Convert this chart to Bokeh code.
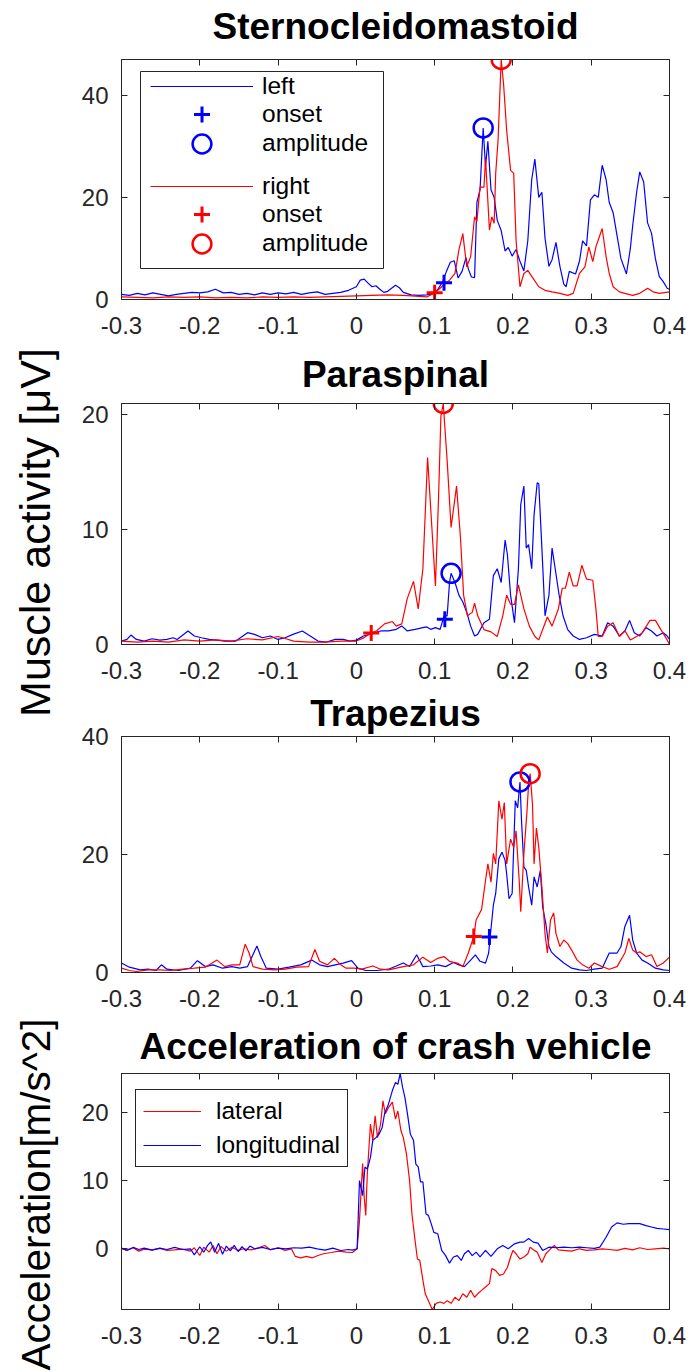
import math
from bokeh.plotting import figure
from bokeh.models import Range1d, LinearAxis, FixedTicker, Legend, LegendItem, BoxAnnotation, Title
from bokeh.layouts import row, column
from bokeh.embed import file_html
from bokeh.resources import INLINE

# ---------------- data ----------------
x_ticks = [-0.3, -0.2, -0.1, 0.0, 0.1, 0.2, 0.3, 0.4]
x_tick_labels = ["-0.3", "-0.2", "-0.1", "0", "0.1", "0.2", "0.3", "0.4"]

titles = ["Sternocleidomastoid", "Paraspinal", "Trapezius", "Acceleration of crash vehicle"]
y_labels = ["Muscle activity [\u03bcV]", "Acceleration[m/s^2]"]
emg_legend = ["left", "onset", "amplitude", "right", "onset", "amplitude"]
acc_legend = ["lateral", "longitudinal"]

# Sternocleidomastoid
scm_left_t = [-0.30,-0.29,-0.28,-0.27,-0.26,-0.25,-0.24,-0.23,-0.22,-0.21,-0.20,-0.19,-0.18,-0.17,-0.16,-0.15,-0.14,-0.13,-0.12,-0.11,
              -0.10,-0.09,-0.08,-0.07,-0.06,-0.05,-0.04,-0.03,-0.02,-0.01,0.000,0.005,0.010,0.015,0.020,0.025,0.030,0.035,0.040,0.045,
              0.050,0.055,0.060,0.070,0.080,0.090,0.100,0.105,0.110,0.115,0.120,0.125,0.130,0.135,0.140,
              0.143,0.147,0.151,0.154,0.158,0.162,0.165,0.168,0.172,0.176,0.180,0.185,0.190,0.194,0.199,0.204,0.209,0.214,0.219,0.224,
              0.228,0.233,0.237,0.241,0.246,0.250,0.255,0.260,0.265,0.268,0.272,0.280,0.285,0.289,0.294,0.299,0.304,0.309,0.314,0.319,
              0.323,0.328,0.333,0.338,0.345,0.350,0.353,0.358,0.362,0.367,0.372,0.377,0.382,0.387,0.392,0.397,0.400]
scm_left_v = [1.0,0.8,1.2,0.9,1.3,1.0,0.7,1.0,1.2,1.4,1.3,1.5,2.0,1.3,1.4,1.0,1.2,0.9,1.3,1.0,
              1.3,1.1,1.4,1.0,1.3,1.5,1.0,1.2,1.4,1.8,2.5,3.8,4.0,3.2,2.5,2.7,2.0,1.4,1.6,2.2,
              2.8,2.3,1.4,0.9,0.8,0.9,1.2,2.2,3.4,5.5,7.3,7.6,4.2,5.5,8.2,
              6.0,4.4,4.3,19.0,21.5,33.6,26.0,31.0,21.5,20.0,15.5,13.5,9.5,10.2,8.5,9.8,7.5,5.6,11.5,23.5,
              27.5,20.0,21.0,12.0,6.5,7.8,11.2,6.5,3.0,2.5,5.5,5.0,7.5,11.5,10.5,19.5,20.5,20.0,26.3,23.5,
              19.0,17.0,12.5,8.0,5.0,10.0,14.5,21.0,25.0,23.0,15.0,13.0,8.0,4.5,3.5,2.2,2.0]
scm_right_t = [-0.30,-0.28,-0.26,-0.24,-0.22,-0.20,-0.18,-0.16,-0.14,-0.12,-0.10,-0.08,-0.06,-0.04,-0.02,0.00,0.02,0.04,0.06,0.08,
               0.09,0.100,0.104,0.109,0.119,0.126,0.131,0.136,0.141,0.146,0.151,0.154,0.158,0.163,0.165,0.170,0.173,0.176,0.178,0.181,
               0.185,0.188,0.192,0.197,0.201,0.204,0.209,0.214,0.219,0.226,0.233,0.241,0.250,0.260,0.270,0.277,0.285,0.292,0.297,0.302,
               0.306,0.314,0.319,0.323,0.328,0.336,0.343,0.353,0.362,0.372,0.379,0.387,0.400]
scm_right_v = [0.5,0.4,0.3,0.5,0.4,0.5,0.3,0.4,0.3,0.5,0.4,0.5,0.4,0.5,0.6,0.7,0.8,0.9,0.8,0.6,
               0.5,1.3,1.8,2.5,3.8,5.1,9.7,12.9,6.4,8.4,16.2,15.3,22.0,22.0,27.6,13.6,16.2,14.9,24.7,31.2,
               47.0,42.3,33.1,25.3,24.7,11.6,2.5,5.1,5.7,4.1,2.5,1.8,1.5,1.2,0.8,1.2,5.1,6.4,10.3,7.4,
               10.3,13.9,8.4,5.1,2.5,1.5,1.2,0.8,1.2,2.2,1.5,1.2,1.5]

# Paraspinal
para_left_t = [-0.300,-0.293,-0.288,-0.281,-0.271,-0.261,-0.251,-0.242,-0.234,-0.229,-0.215,-0.207,-0.198,-0.188,-0.178,-0.168,-0.154,-0.139,-0.130,-0.120,
               -0.110,-0.100,-0.091,-0.081,-0.069,-0.059,-0.049,-0.039,-0.027,-0.017,-0.008,0.000,0.009,0.021,0.031,0.041,0.051,0.058,0.065,0.075,
               0.085,0.090,0.095,0.101,0.107,0.112,0.116,0.119,0.121,0.126,0.131,0.136,0.141,0.146,0.151,0.155,0.163,0.170,0.175,0.180,
               0.185,0.190,0.193,0.197,0.202,0.207,0.210,0.214,0.217,0.220,0.224,0.227,0.231,0.233,0.237,0.241,0.246,0.250,0.254,0.259,
               0.264,0.270,0.277,0.285,0.294,0.304,0.314,0.321,0.328,0.336,0.343,0.349,0.355,0.362,0.370,0.377,0.384,0.392,0.397,0.400]
para_left_v = [0.3,0.44,0.82,0.44,0.3,0.5,0.38,0.44,0.59,0.44,1.18,0.74,0.59,0.44,0.38,0.3,0.3,1.03,0.88,0.59,
               0.74,0.44,0.59,0.88,1.18,0.74,0.3,0.2,0.44,0.44,0.3,0.38,0.74,0.97,1.18,1.18,1.32,1.62,1.18,1.32,
               1.47,1.53,1.32,1.47,1.32,2.5,2.5,5.4,6.2,5.4,4.3,3.7,2.8,1.6,0.74,0.88,1.9,2.2,6.0,6.6,
               5.4,9.1,7.8,4.3,1.9,6.6,12.2,13.8,8.4,8.7,6.6,11.3,14.1,14.0,8.4,2.5,4.3,8.4,6.6,4.3,
               2.5,1.3,0.74,0.44,0.59,0.88,0.74,1.9,1.6,0.74,1.18,2.1,1.03,0.74,1.47,1.18,0.74,1.03,0.74,0.44]
para_right_t = [-0.30,-0.28,-0.26,-0.24,-0.22,-0.20,-0.18,-0.16,-0.14,-0.12,-0.10,-0.09,-0.08,-0.06,-0.04,-0.02,0.00,0.010,0.019,0.026,
                0.036,0.046,0.051,0.058,0.065,0.073,0.079,0.085,0.091,0.096,0.101,0.105,0.108,0.111,0.116,0.121,0.128,0.133,0.137,0.142,
                0.148,0.151,0.155,0.163,0.172,0.180,0.187,0.192,0.197,0.202,0.207,0.214,0.221,0.228,0.233,0.238,0.244,0.250,0.258,0.263,
                0.267,0.272,0.277,0.282,0.288,0.294,0.302,0.306,0.309,0.314,0.321,0.328,0.336,0.343,0.350,0.358,0.365,0.375,0.382,0.389,
                0.397,0.400]
para_right_v = [0.3,0.2,0.3,0.2,0.4,0.3,0.4,0.3,0.5,0.4,0.7,0.5,0.3,0.2,0.2,0.3,0.3,0.6,1.0,1.2,
                1.8,2.0,1.6,1.8,4.0,5.5,3.1,6.6,16.3,10.7,5.1,12.8,19.9,21.0,16.0,10.2,13.8,9.3,4.3,2.5,
                2.8,3.6,2.5,1.3,1.1,0.7,2.5,4.3,3.5,3.5,5.2,3.1,1.6,0.7,0.4,1.3,2.4,1.6,3.1,4.9,
                4.9,6.3,5.1,5.1,6.9,5.7,5.6,3.1,0.7,0.7,1.6,1.9,0.7,1.2,0.4,0.7,1.0,2.1,2.1,1.3,
                0.4,0.0]

# Trapezius
trap_left_t = [-0.300,-0.290,-0.276,-0.266,-0.256,-0.249,-0.242,-0.227,-0.212,-0.203,-0.193,-0.183,-0.171,-0.159,-0.149,-0.139,-0.127,-0.122,-0.115,-0.100,
               -0.086,-0.071,-0.057,-0.047,-0.037,-0.027,-0.017,-0.006,0.002,0.012,0.026,0.041,0.051,0.060,0.068,0.077,0.085,0.095,0.104,0.114,
               0.124,0.131,0.138,0.146,0.152,0.158,0.165,0.169,0.171,0.175,0.178,0.182,0.186,0.190,0.192,0.195,0.199,0.203,0.206,0.209,
               0.211,0.214,0.217,0.220,0.224,0.227,0.231,0.235,0.238,0.242,0.246,0.249,0.255,0.265,0.275,0.285,0.294,0.304,0.314,0.323,
               0.333,0.338,0.343,0.349,0.353,0.358,0.365,0.372,0.382,0.392,0.400]
trap_left_v = [1.6,0.9,0.45,0.56,0.34,1.3,0.56,0.34,0.73,2.0,1.0,1.3,0.73,1.0,0.73,1.0,4.5,2.7,0.73,0.56,
               0.9,1.3,2.1,1.3,1.0,1.3,1.6,2.0,0.73,0.34,0.34,0.56,1.1,1.6,1.0,3.0,1.0,1.1,1.3,1.0,
               1.7,1.3,1.0,2.1,3.0,1.9,1.6,3.3,6.1,11.4,13.4,19.3,20.4,19.0,16.7,12.5,13.4,29.1,27.9,32.3,
               25.7,17.9,17.3,14.5,11.4,16.2,14.5,17.3,11.1,8.3,4.4,3.5,2.7,1.6,0.73,0.45,0.34,0.56,0.73,3.3,
               3.3,4.4,7.8,9.7,5.5,3.3,2.1,1.6,0.73,0.45,0.34]
trap_right_t = [-0.300,-0.290,-0.281,-0.266,-0.251,-0.237,-0.222,-0.207,-0.193,-0.178,-0.168,-0.159,-0.149,-0.142,-0.137,-0.132,-0.120,-0.105,-0.091,-0.076,
                -0.061,-0.053,-0.047,-0.037,-0.028,-0.020,-0.013,-0.003,0.007,0.021,0.031,0.041,0.051,0.060,0.073,0.085,0.095,0.104,0.112,0.119,
                0.129,0.136,0.143,0.150,0.153,0.160,0.165,0.168,0.172,0.175,0.178,0.182,0.186,0.189,0.192,0.197,0.201,0.204,0.208,0.210,
                0.214,0.218,0.220,0.222,0.225,0.227,0.230,0.233,0.237,0.241,0.244,0.248,0.252,0.255,0.260,0.265,0.270,0.275,0.282,0.289,
                0.297,0.304,0.314,0.323,0.333,0.343,0.348,0.353,0.358,0.362,0.370,0.377,0.384,0.392,0.400]
trap_right_v = [0.73,0.34,0.17,0.45,0.45,0.34,0.56,0.73,0.9,2.1,1.0,1.3,1.3,4.8,3.3,1.0,0.56,0.45,0.56,0.9,
                1.0,3.9,1.9,1.3,2.4,1.3,0.73,0.73,0.56,1.1,0.56,0.45,0.73,1.0,1.3,2.6,1.7,2.4,2.7,1.9,
                1.6,1.0,3.3,6.1,8.9,10.7,15.6,18.4,15.3,20.2,18.4,29.1,26.0,28.8,18.4,22.6,21.2,24.0,15.6,10.3,
                20.1,27.4,31.9,33.7,28.5,18.4,24.5,21.2,14.5,6.6,3.3,8.9,10.1,6.6,4.4,5.5,4.9,3.8,2.1,1.3,
                0.73,1.6,1.0,0.56,1.0,3.3,5.8,3.8,3.3,3.5,2.7,3.0,1.0,1.6,2.6]

# onset / amplitude markers: [scm, para, trap]
onset_left_t = [0.112, 0.113, 0.170]
onset_left_v = [3.3, 2.2, 6.0]
amp_left_t = [0.162, 0.121, 0.209]
amp_left_v = [33.6, 6.2, 32.3]
onset_right_t = [0.100, 0.019, 0.150]
onset_right_v = [1.3, 1.0, 6.1]
amp_right_t = [0.185, 0.111, 0.222]
amp_right_v = [47.0, 21.0, 33.7]

# Acceleration of crash vehicle
acc_lat_t = [-0.300,-0.293,-0.285,-0.278,-0.271,-0.261,-0.251,-0.242,-0.232,-0.222,-0.212,-0.207,-0.200,-0.195,-0.188,-0.183,-0.178,-0.173,-0.166,-0.159,
             -0.151,-0.144,-0.134,-0.125,-0.117,-0.110,-0.100,-0.091,-0.083,-0.078,-0.071,-0.064,-0.056,-0.049,-0.042,-0.032,-0.022,-0.013,-0.005,0.001,
             0.004,0.008,0.010,0.012,0.014,0.018,0.021,0.024,0.027,0.031,0.034,0.037,0.041,0.046,0.050,0.053,0.057,0.060,0.064,0.068,
             0.071,0.075,0.078,0.081,0.085,0.088,0.092,0.097,0.102,0.107,0.112,0.116,0.121,0.126,0.131,0.136,0.141,0.146,0.151,0.155,
             0.160,0.165,0.170,0.173,0.178,0.183,0.188,0.193,0.197,0.200,0.204,0.209,0.214,0.219,0.222,0.226,0.231,0.237,0.242,0.248,
             0.253,0.258,0.265,0.275,0.285,0.294,0.304,0.314,0.323,0.333,0.343,0.353,0.362,0.372,0.382,0.392,0.400]
acc_lat_v = [0.0,-0.24,0.15,-0.34,-0.05,-0.15,0.05,-0.24,-0.15,-0.05,-0.34,0.15,-0.98,0.24,-0.49,0.49,-0.73,0.34,-0.34,0.24,
             -0.24,0.0,-0.15,0.15,0.49,-0.15,0.15,-0.24,0.0,-1.12,-1.32,-1.12,-1.32,-0.98,-0.73,-0.54,-0.34,-0.49,-0.54,0.0,
             4.1,12.5,7.6,4.9,11.0,18.3,15.9,19.5,16.3,18.3,21.7,19.8,20.7,21.5,19.0,20.2,17.3,16.3,13.9,10.0,
             5.1,1.2,-1.5,-1.7,-4.6,-6.6,-7.6,-8.9,-8.0,-7.8,-8.0,-7.6,-8.0,-7.1,-7.6,-6.6,-7.1,-6.1,-7.1,-6.6,
             -6.1,-5.6,-5.1,-2.9,-3.2,-3.9,-3.7,-2.7,-1.2,-0.24,-0.73,-1.5,-1.2,-0.73,0.24,-0.15,-0.49,-2.0,-0.73,0.0,
             0.49,-0.15,-0.24,-0.34,0.0,-0.24,-0.15,0.0,-0.1,-0.24,0.05,-0.15,0.15,-0.1,0.0,0.1,0.0]
acc_lon_t = [-0.300,-0.293,-0.285,-0.278,-0.271,-0.261,-0.251,-0.242,-0.232,-0.222,-0.212,-0.207,-0.200,-0.195,-0.190,-0.186,-0.181,-0.176,-0.171,-0.166,
             -0.161,-0.156,-0.151,-0.146,-0.141,-0.136,-0.130,-0.120,-0.110,-0.100,-0.090,-0.080,-0.070,-0.060,-0.050,-0.040,-0.030,-0.020,-0.010,-0.005,
             0.001,0.004,0.008,0.011,0.014,0.018,0.021,0.025,0.029,0.033,0.036,0.041,0.046,0.050,0.053,0.056,0.059,0.062,0.065,0.069,
             0.073,0.076,0.079,0.082,0.085,0.089,0.092,0.095,0.099,0.104,0.109,0.114,0.119,0.124,0.129,0.134,0.138,0.143,0.148,0.153,
             0.158,0.165,0.172,0.180,0.187,0.194,0.202,0.209,0.214,0.220,0.226,0.232,0.238,0.246,0.255,0.265,0.275,0.285,0.294,0.304,
             0.311,0.319,0.326,0.333,0.341,0.348,0.355,0.362,0.370,0.377,0.384,0.392,0.400]
acc_lon_v = [0.1,-0.2,0.2,-0.1,0.1,-0.2,0.1,-0.1,0.2,-0.1,0.0,-0.9,0.3,-0.5,0.5,1.0,-0.5,0.8,-0.8,0.4,
             -0.3,0.5,-0.4,0.3,-0.3,0.4,0.0,0.2,-0.1,0.1,0.0,0.15,0.1,0.25,0.0,-0.2,0.1,-0.25,-0.1,-0.2,
             0.0,10.0,7.8,12.0,11.7,13.4,15.9,16.3,16.8,17.8,19.8,21.2,23.2,24.4,24.1,25.7,23.7,22.2,20.0,16.8,
             15.9,12.4,12.0,9.8,9.8,5.1,4.9,3.9,2.4,2.2,-0.24,-1.0,-2.1,-1.2,-1.0,-1.7,-0.73,-0.24,-1.0,-0.49,
             -1.2,-0.24,-1.1,0.0,0.49,0.0,0.73,0.98,0.98,1.5,0.98,0.83,-0.24,0.24,0.15,0.24,0.15,0.24,0.15,0.05,
             0.24,1.7,3.2,3.8,3.6,3.7,3.7,3.7,3.4,3.2,3.0,2.9,2.8]

# axis limits and y ticks per panel
y_limits = [(0.0, 47.0), (0.0, 21.0), (0.0, 40.0), (-8.9, 25.7)]
y_ticks = [[0, 20, 40], [0, 10, 20], [0, 20, 40], [0, 10, 20]]

# ---------------- style ----------------
FONT = "Liberation Sans"
AXC = "#262626"
BLUE = "#0000ff"
RED = "#ff0000"
TICK_FS = "24px"
LEG_FS = "24.5px"
TITLE_FS = "37px"
FIG_W = 621
BORDER_L = 53
BORDER_R = 20


def style_axis(ax):
    ax.axis_line_color = AXC
    ax.axis_line_width = 1
    ax.major_tick_line_color = AXC
    ax.major_tick_line_width = 1
    ax.major_tick_in = 6
    ax.major_tick_out = 0
    ax.minor_tick_in = 0
    ax.minor_tick_out = 0
    ax.minor_tick_line_color = None
    ax.major_label_text_font = FONT
    ax.major_label_text_font_size = TICK_FS
    ax.major_label_text_color = AXC


def style_title(t, valign):
    t.align = "center"
    t.vertical_align = valign
    t.standoff = 2
    t.text_font = FONT
    t.text_font_size = TITLE_FS
    t.text_font_style = "bold"
    t.text_color = "black"


def title_strip(height, btop, text):
    t = figure(width=FIG_W, height=height, output_backend="svg", toolbar_location=None, title=text,
               x_range=Range1d(0, 1), y_range=Range1d(0, 1), x_axis_type=None, y_axis_type=None,
               min_border_left=BORDER_L, min_border_right=BORDER_R,
               min_border_top=btop, min_border_bottom=0)
    style_title(t.title, "bottom")
    t.outline_line_color = None
    t.background_fill_color = "white"
    t.border_fill_color = "white"
    return t


def panel(height, btop, bbot, idx, with_title=False):
    y0, y1 = y_limits[idx]
    p = figure(width=FIG_W, height=height, x_range=Range1d(-0.3, 0.4), y_range=Range1d(y0, y1),
               output_backend="svg", toolbar_location=None,
               title=titles[idx] if with_title else None,
               min_border_left=BORDER_L, min_border_right=BORDER_R,
               min_border_top=btop, min_border_bottom=bbot)
    if with_title:
        style_title(p.title, "top")
    p.xgrid.visible = False
    p.ygrid.visible = False
    p.outline_line_color = AXC
    p.outline_line_width = 1
    p.background_fill_color = "white"
    p.border_fill_color = "white"
    p.xaxis.ticker = FixedTicker(ticks=x_ticks)
    p.xaxis.major_label_overrides = {t: s for t, s in zip(x_ticks, x_tick_labels)}
    p.yaxis.ticker = FixedTicker(ticks=y_ticks[idx])
    style_axis(p.xaxis[0])
    style_axis(p.yaxis[0])
    p.xaxis.major_label_standoff = 17
    p.yaxis.major_label_standoff = 13
    top = LinearAxis(ticker=FixedTicker(ticks=x_ticks),
                     major_label_overrides={t: "" for t in x_ticks})
    right = LinearAxis(ticker=FixedTicker(ticks=y_ticks[idx]),
                       major_label_overrides={t: "" for t in y_ticks[idx]})
    for ax in (top, right):
        style_axis(ax)
        ax.major_label_text_font_size = "1px"
        ax.major_label_standoff = 0
    p.add_layout(top, "above")
    p.add_layout(right, "right")
    return p


def emg_panel(height, btop, bbot, idx, lt, lv, rt, rv, k, with_title=False):
    p = panel(height, btop, bbot, idx, with_title)
    r_l = p.line(lt, lv, line_color=BLUE, line_width=1.2)
    r_r = p.line(rt, rv, line_color=RED, line_width=1.2)
    r_ol = p.scatter([onset_left_t[k]], [onset_left_v[k]], marker="cross", size=16,
                     line_color=BLUE, line_width=3)
    r_al = p.scatter([amp_left_t[k]], [amp_left_v[k]], marker="circle", size=19,
                     fill_color=None, line_color=BLUE, line_width=2.5)
    r_or = p.scatter([onset_right_t[k]], [onset_right_v[k]], marker="cross", size=16,
                     line_color=RED, line_width=3)
    r_ar = p.scatter([amp_right_t[k]], [amp_right_v[k]], marker="circle", size=19,
                     fill_color=None, line_color=RED, line_width=2.5)
    return p, [r_l, r_ol, r_al, r_r, r_or, r_ar]


# page rows (frames at y 59-299, 403-644, 736-972, 1073-1309)
t1 = title_strip(55, 47, titles[0])
p1, rend1 = emg_panel(290, 4, 46, 0, scm_left_t, scm_left_v, scm_right_t, scm_right_v, 0)
p1.add_layout(BoxAnnotation(left=19, right=262, bottom=31, top=228,
                            left_units="screen", right_units="screen",
                            bottom_units="screen", top_units="screen",
                            fill_color="white", fill_alpha=1.0,
                            line_color=AXC, line_alpha=1.0, line_width=1))
centers = [213, 185, 156, 113, 85, 56]
gh = [28, 40, 47, 28, 40, 47]
for lab, r, c, h in zip(emg_legend, rend1, centers, gh):
    lg = Legend(items=[LegendItem(label=lab, renderers=[r])], location=(29, c - h / 2),
                orientation="vertical", padding=0, margin=0, spacing=0,
                glyph_width=103, glyph_height=h, label_height=h, label_standoff=9,
                label_text_font=FONT, label_text_font_size=LEG_FS, label_text_color="black",
                border_line_alpha=0, background_fill_alpha=0)
    p1.add_layout(lg, "center")

t2 = title_strip(54, 50, titles[1])
p2, _ = emg_panel(289, 4, 44, 1, para_left_t, para_left_v, para_right_t, para_right_v, 1)
p3, _ = emg_panel(328, 48, 44, 2, trap_left_t, trap_left_v, trap_right_t, trap_right_v, 2,
                  with_title=True)
t4 = title_strip(53, 51, titles[3])
p4 = panel(302, 4, 62, 3)
r_lat = p4.line(acc_lat_t, acc_lat_v, line_color=RED, line_width=1.2)
r_lon = p4.line(acc_lon_t, acc_lon_v, line_color=BLUE, line_width=1.2)
leg4 = Legend(items=[LegendItem(label=acc_legend[0], renderers=[r_lat]),
                     LegendItem(label=acc_legend[1], renderers=[r_lon])],
              location=(14, 142), orientation="vertical", padding=7, margin=0, spacing=6,
              glyph_width=58, glyph_height=24, label_height=24, label_standoff=15,
              label_text_font=FONT, label_text_font_size=LEG_FS, label_text_color="black",
              border_line_color=AXC, border_line_width=1, border_line_alpha=1,
              background_fill_color="white", background_fill_alpha=1)
p4.add_layout(leg4, "center")


# y-label strips (titles on the left side)
def strip(height, btop, text, fs):
    s = figure(width=68, height=height, output_backend="svg", toolbar_location=None, title=None,
               x_range=Range1d(0, 1), y_range=Range1d(0, 1), x_axis_type=None, y_axis_type=None,
               min_border_left=59, min_border_right=0, min_border_top=btop, min_border_bottom=0)
    s.outline_line_color = None
    s.background_fill_color = "white"
    s.border_fill_color = "white"
    s.add_layout(Title(text=text, align="center", vertical_align="bottom", standoff=2,
                       text_font=FONT, text_font_size=fs, text_font_style="normal",
                       text_color="black"), "left")
    return s


s1 = strip(868, 196, y_labels[0], "43px")
s2 = strip(503, 149, y_labels[1], "40.5px")

layout = row(column(s1, s2), column(t1, p1, t2, p2, p3, t4, p4))
open("out.html", "w").write(file_html(layout, INLINE))
